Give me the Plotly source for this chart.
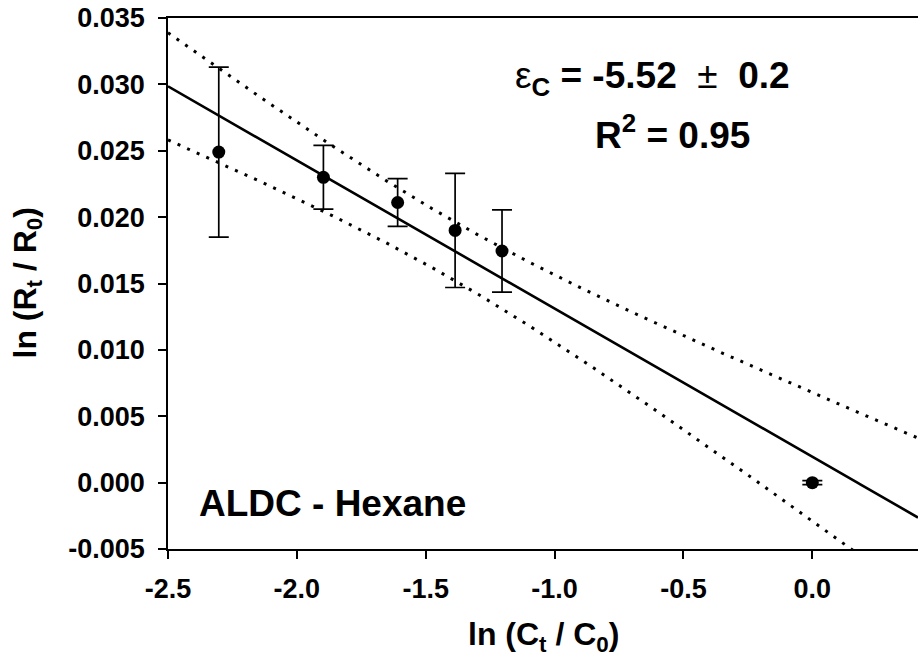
import numpy as np
import plotly.graph_objects as go

# Rayleigh-type plot: ln(Ct/C0) vs ln(Rt/R0) with standard-deviation error bars
ln_c = [-2.303, -1.897, -1.609, -1.386, -1.204, 0.0]
ln_r = [0.0249, 0.0230, 0.0211, 0.0190, 0.01745, 0.0]
ln_r_err = [0.0064, 0.0024, 0.0018, 0.0043, 0.0031, 0.00015]

x_ticks = [-2.5, -2.0, -1.5, -1.0, -0.5, 0.0]
y_ticks = [-0.005, 0.0, 0.005, 0.010, 0.015, 0.020, 0.025, 0.030, 0.035]

X_RANGE = [-2.5, 0.41]
Y_RANGE = [-0.005, 0.035]
T_CRIT = 2.447  # t value used for the confidence band

FONT = "Liberation Sans, Arial, sans-serif"

# linear regression and confidence band of the mean
x = np.array(ln_c)
y = np.array(ln_r)
n = len(x)
slope, intercept = np.polyfit(x, y, 1)
resid = y - (slope * x + intercept)
s = np.sqrt(np.sum(resid ** 2) / (n - 2))
sxx = np.sum((x - x.mean()) ** 2)

xf = np.linspace(X_RANGE[0], X_RANGE[1], 300)
yf = slope * xf + intercept
half = T_CRIT * s * np.sqrt(1.0 / n + (xf - x.mean()) ** 2 / sxx)

fig = go.Figure()

dot_line = dict(color="black", width=3, dash="3px,7.5px")
fig.add_trace(go.Scatter(x=xf, y=yf + half, mode="lines", line=dot_line,
                         hoverinfo="skip", showlegend=False))
fig.add_trace(go.Scatter(x=xf, y=yf - half, mode="lines", line=dot_line,
                         hoverinfo="skip", showlegend=False))
fig.add_trace(go.Scatter(x=xf, y=yf, mode="lines",
                         line=dict(color="black", width=2.6),
                         hoverinfo="skip", showlegend=False))
fig.add_trace(go.Scatter(
    x=ln_c, y=ln_r, mode="markers",
    marker=dict(color="black", size=13),
    error_y=dict(type="data", array=ln_r_err, visible=True,
                 color="black", thickness=1.7, width=10),
    showlegend=False,
))

axis_common = dict(
    showgrid=False, zeroline=False, showline=True, linecolor="black",
    linewidth=1.5, ticks="outside", ticklen=8, tickwidth=1.5,
    tickcolor="black",
    tickfont=dict(family=FONT, size=27, color="black", weight="bold"),
)

fig.update_layout(
    width=918, height=660,
    margin=dict(l=168, r=0, t=18, b=111),
    paper_bgcolor="white", plot_bgcolor="white",
    font=dict(family=FONT, color="black"),
    xaxis=dict(range=X_RANGE, tickvals=x_ticks,
               ticktext=[f"{v:.1f}" for v in x_ticks],
               ticklabelstandoff=7, mirror=True, **axis_common),
    yaxis=dict(range=Y_RANGE, tickvals=y_ticks,
               ticktext=[f"{v:.3f}" for v in y_ticks],
               ticklabelstandoff=8, **axis_common),
)

fig.add_annotation(text="<b>ln (C<sub>t</sub> / C<sub>0</sub>)</b>",
                   xref="paper", yref="paper", x=0.5, y=-0.165,
                   xanchor="center", yanchor="middle", showarrow=False,
                   font=dict(family=FONT, size=32, color="black"))
fig.add_annotation(text="<b>ln (R<sub>t</sub> / R<sub>0</sub>)</b>",
                   xref="paper", yref="paper", x=-0.188, y=0.5,
                   xanchor="center", yanchor="middle", textangle=-90,
                   showarrow=False,
                   font=dict(family=FONT, size=32, color="black"))

fig.add_annotation(text="<b>ALDC - Hexane</b>", x=-2.388, y=-0.0016,
                   xanchor="left", yanchor="middle", showarrow=False,
                   font=dict(family=FONT, size=37, color="black"))
fig.add_annotation(text="ε<b><sub>C</sub> = -5.52 </b> ± <b> 0.2</b>",
                   x=-0.62, y=0.0305, xanchor="center", yanchor="middle",
                   showarrow=False,
                   font=dict(family=FONT, size=37, color="black"))
fig.add_annotation(text="<b>R<sup>2</sup> = 0.95</b>",
                   x=-0.543, y=0.0264, xanchor="center", yanchor="middle",
                   showarrow=False,
                   font=dict(family=FONT, size=37, color="black"))

fig.write_html("out.html")
